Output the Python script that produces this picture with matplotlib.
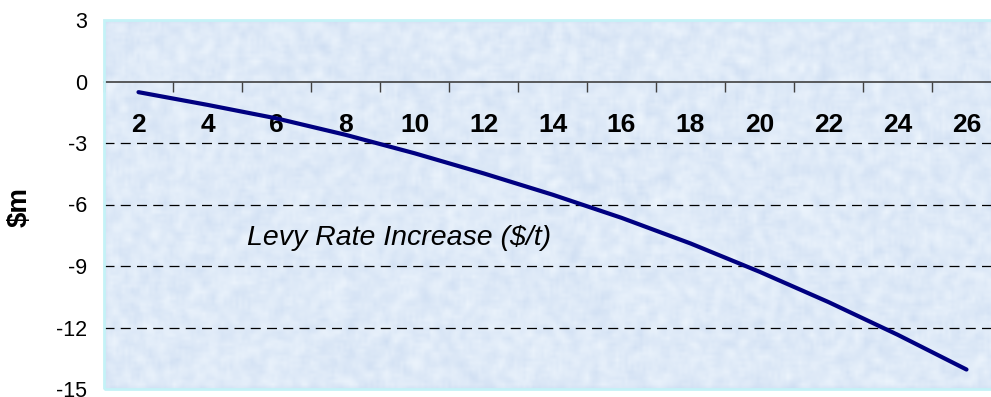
import numpy as np
import matplotlib.pyplot as plt
from matplotlib.patches import Rectangle
from matplotlib.ticker import FixedLocator, NullFormatter, FixedFormatter

plt.rcParams['font.family'] = ['Liberation Sans', 'DejaVu Sans']
plt.rcParams['axes.unicode_minus'] = False

# levy rate increase ($/t) and the resulting change ($m)
levy_rate = [2, 4, 6, 8, 10, 12, 14, 16, 18, 20, 22, 24, 26]
change_m = [-0.52, -1.14, -1.8, -2.6, -3.5, -4.48, -5.52, -6.65, -7.9, -9.28, -10.76, -12.35, -14.05]
y_ticks = [-15, -12, -9, -6, -3, 0, 3]
grid_levels = [-12, -9, -6, -3]

W, H = 991, 397
fig = plt.figure(figsize=(W / 100, H / 100), dpi=100)
ax = fig.add_axes([104 / W, 8 / H, 897 / W, 369 / H])

n = len(levy_rate)
ax.set_xlim(0, n)
ax.set_ylim(-15, 3)

# tissue-paper style background
rng = np.random.default_rng(3)
tex = rng.random((120, 300))
k = np.ones(3) / 3
tex = np.apply_along_axis(lambda r: np.convolve(r, k, mode='same'), 1, tex)
tex = np.apply_along_axis(lambda c: np.convolve(c, k, mode='same'), 0, tex)
tex = (tex - tex.min()) / (tex.max() - tex.min())
lo = np.array([0.81, 0.87, 0.95])
hi = np.array([0.93, 0.96, 0.99])
img = lo + tex[..., None] * (hi - lo)
ax.imshow(img, extent=(0, n, -15, 3), aspect='auto', zorder=0, interpolation='bilinear')

for g in grid_levels:
    ax.axhline(g, color='black', lw=0.9, ls=(0, (8, 5)), zorder=1)

x = np.arange(n) + 0.5
ax.plot(x, change_m, color='#000080', lw=3, solid_capstyle='round',
        solid_joinstyle='round', zorder=3)

# category axis sits on the zero line
for s in ['top', 'right', 'left']:
    ax.spines[s].set_visible(False)
ax.spines['bottom'].set_position(('data', 0))
ax.spines['bottom'].set_color('#404040')
ax.spines['bottom'].set_linewidth(1.2)
ax.spines['bottom'].set_zorder(2)
ax.add_patch(Rectangle((0, 0), 1, 1, transform=ax.transAxes, fill=False,
                       edgecolor='#c4f2f7', lw=2, zorder=4, clip_on=False))

ax.xaxis.set_major_locator(FixedLocator(np.arange(n + 1)))
ax.xaxis.set_major_formatter(NullFormatter())
ax.xaxis.set_minor_locator(FixedLocator(x))
ax.xaxis.set_minor_formatter(FixedFormatter([str(v) for v in levy_rate]))
ax.tick_params(axis='x', which='major', direction='out', length=7, width=1, color='#404040')
ax.tick_params(axis='x', which='minor', length=0, pad=23, labelsize=19)
for lbl in ax.xaxis.get_minorticklabels():
    lbl.set_fontweight('bold')

ax.set_yticks(y_ticks)
ax.tick_params(axis='y', length=0, pad=12, labelsize=15.5)

ax.text(0.159, 0.39, 'Levy Rate Increase ($/t)', transform=ax.transAxes,
        ha='left', va='baseline', style='italic', fontsize=20.5, zorder=5)
fig.text(20 / W, 1 - 207 / H, '$m', rotation=90, ha='center', va='center',
         fontsize=20, fontweight='bold')

fig.savefig('out.png', dpi=100)
